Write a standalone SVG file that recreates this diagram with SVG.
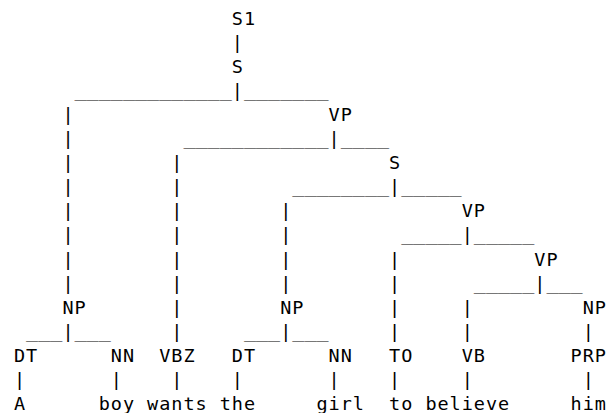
<svg xmlns="http://www.w3.org/2000/svg" width="607" height="413" viewBox="0 0 607 413">
<style>
text{font-family:"DejaVu Sans Mono","Liberation Mono",monospace;font-size:18.5px;fill:#000;letter-spacing:0.96px}
.u{letter-spacing:0}
</style>
<rect width="607" height="413" fill="#fff"/>
<g id="connectors">
<text x="231.8" y="49.05">|</text>
<text class="u" x="74.5" y="97.15" textLength="157.3" lengthAdjust="spacingAndGlyphs">_____________</text>
<text x="231.8" y="97.15">|</text>
<text class="u" x="243.9" y="97.15" textLength="84.7" lengthAdjust="spacingAndGlyphs">_______</text>
<text x="62.4" y="121.2">|</text>
<text x="62.4" y="145.25">|</text>
<text class="u" x="183.4" y="145.25" textLength="145.2" lengthAdjust="spacingAndGlyphs">____________</text>
<text x="328.6" y="145.25">|</text>
<text class="u" x="340.7" y="145.25" textLength="48.4" lengthAdjust="spacingAndGlyphs">____</text>
<text x="62.4" y="169.3">|</text>
<text x="171.3" y="169.3">|</text>
<text x="62.4" y="193.35">|</text>
<text x="171.3" y="193.35">|</text>
<text class="u" x="292.3" y="193.35" textLength="96.8" lengthAdjust="spacingAndGlyphs">________</text>
<text x="389.1" y="193.35">|</text>
<text class="u" x="401.2" y="193.35" textLength="60.5" lengthAdjust="spacingAndGlyphs">_____</text>
<text x="62.4" y="217.4">|</text>
<text x="171.3" y="217.4">|</text>
<text x="280.2" y="217.4">|</text>
<text x="62.4" y="241.45">|</text>
<text x="171.3" y="241.45">|</text>
<text x="280.2" y="241.45">|</text>
<text class="u" x="401.2" y="241.45" textLength="60.5" lengthAdjust="spacingAndGlyphs">_____</text>
<text x="461.7" y="241.45">|</text>
<text class="u" x="473.8" y="241.45" textLength="60.5" lengthAdjust="spacingAndGlyphs">_____</text>
<text x="62.4" y="265.5">|</text>
<text x="171.3" y="265.5">|</text>
<text x="280.2" y="265.5">|</text>
<text x="389.1" y="265.5">|</text>
<text x="62.4" y="289.55">|</text>
<text x="171.3" y="289.55">|</text>
<text x="280.2" y="289.55">|</text>
<text x="389.1" y="289.55">|</text>
<text class="u" x="473.8" y="289.55" textLength="60.5" lengthAdjust="spacingAndGlyphs">_____</text>
<text x="534.3" y="289.55">|</text>
<text class="u" x="546.4" y="289.55" textLength="36.3" lengthAdjust="spacingAndGlyphs">___</text>
<text x="171.3" y="313.6">|</text>
<text x="389.1" y="313.6">|</text>
<text x="461.7" y="313.6">|</text>
<text class="u" x="26.1" y="337.65" textLength="36.3" lengthAdjust="spacingAndGlyphs">___</text>
<text x="62.4" y="337.65">|</text>
<text class="u" x="74.5" y="337.65" textLength="36.3" lengthAdjust="spacingAndGlyphs">___</text>
<text x="171.3" y="337.65">|</text>
<text class="u" x="243.9" y="337.65" textLength="36.3" lengthAdjust="spacingAndGlyphs">___</text>
<text x="280.2" y="337.65">|</text>
<text class="u" x="292.3" y="337.65" textLength="36.3" lengthAdjust="spacingAndGlyphs">___</text>
<text x="389.1" y="337.65">|</text>
<text x="461.7" y="337.65">|</text>
<text x="582.7" y="337.65">|</text>
<text x="14" y="385.75">|</text>
<text x="110.8" y="385.75">|</text>
<text x="171.3" y="385.75">|</text>
<text x="231.8" y="385.75">|</text>
<text x="328.6" y="385.75">|</text>
<text x="389.1" y="385.75">|</text>
<text x="461.7" y="385.75">|</text>
<text x="582.7" y="385.75">|</text>
</g>
<g id="n-S1"><text x="231.8" y="25">S1</text></g>
<g id="n-S"><text x="231.8" y="73.1">S</text></g>
<g id="n-VP1"><text x="328.6" y="121.2">VP</text></g>
<g id="n-S2"><text x="389.1" y="169.3">S</text></g>
<g id="n-VP2"><text x="461.7" y="217.4">VP</text></g>
<g id="n-VP3"><text x="534.3" y="265.5">VP</text></g>
<g id="n-NP1"><text x="62.4" y="313.6">NP</text></g>
<g id="n-NP2"><text x="280.2" y="313.6">NP</text></g>
<g id="n-NP3"><text x="582.7" y="313.6">NP</text></g>
<g id="n-DT1"><text x="14" y="361.7">DT</text></g>
<g id="n-NN1"><text x="110.8" y="361.7">NN</text></g>
<g id="n-VBZ"><text x="159.2" y="361.7">VBZ</text></g>
<g id="n-DT2"><text x="231.8" y="361.7">DT</text></g>
<g id="n-NN2"><text x="328.6" y="361.7">NN</text></g>
<g id="n-TO"><text x="389.1" y="361.7">TO</text></g>
<g id="n-VB"><text x="461.7" y="361.7">VB</text></g>
<g id="n-PRP"><text x="570.6" y="361.7">PRP</text></g>
<g id="w-A"><text x="14" y="409.8">A</text></g>
<g id="w-boy"><text x="98.7" y="409.8">boy</text></g>
<g id="w-wants"><text x="147.1" y="409.8">wants</text></g>
<g id="w-the"><text x="219.7" y="409.8">the</text></g>
<g id="w-girl"><text x="316.5" y="409.8">girl</text></g>
<g id="w-to"><text x="389.1" y="409.8">to</text></g>
<g id="w-believe"><text x="425.4" y="409.8">believe</text></g>
<g id="w-him"><text x="570.6" y="409.8">him</text></g>
</svg>
